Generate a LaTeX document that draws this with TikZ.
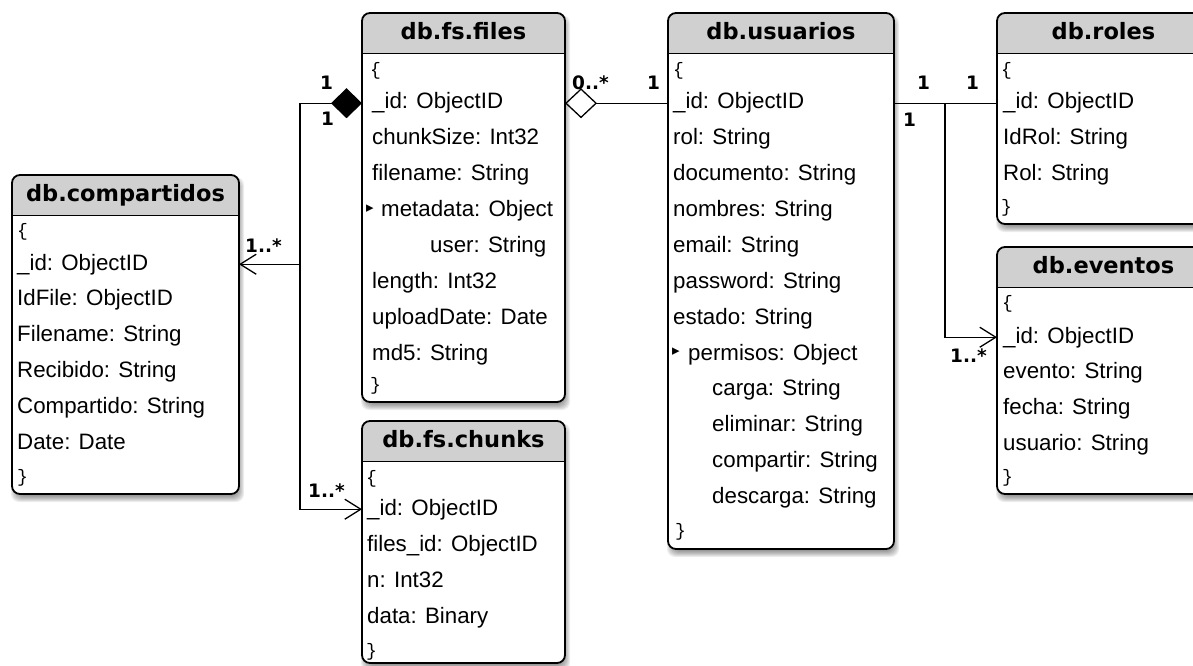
\documentclass[tikz,border=0pt]{standalone}
\usepackage{fontspec}
\setmainfont{Liberation Sans}
\newfontfamily\dejavu{DejaVu Sans}
\newfontfamily\bracefont{Liberation Mono}
\usetikzlibrary{arrows.meta}

\definecolor{headgray}{RGB}{208,208,208}

\tikzset{
  rowtext/.style={anchor=base west, inner sep=0pt, font=\fontsize{22.3}{26}\selectfont},
  bracetext/.style={anchor=west, inner sep=0pt, font=\bracefont\fontsize{18}{20}\selectfont},
  headtext/.style={anchor=base, inner sep=0pt, font=\dejavu\bfseries\fontsize{22.5}{26}\selectfont},
  multext/.style={anchor=base west, inner sep=0pt, font=\dejavu\bfseries\fontsize{18.5}{20}\selectfont},
  bullet/.style={anchor=center, inner sep=0pt, font=\dejavu\fontsize{15}{16}\selectfont},
  conn/.style={line width=1.3pt},
  barb/.style={-{Straight Barb[length=16pt,width=20pt]}},
  tablebox/.style={fill=white, rounded corners=8pt, inner sep=0pt, outer sep=0pt, draw=none},
  tableline/.style={line width=1.8pt},
}

% #1 name, #2 left, #3 top, #4 right, #5 bottom, #6 title
\newcommand\dbtable[6]{%
  % soft shadow built from stacked translucent layers
  \foreach \e in {0,...,6}{%
    \fill[black, opacity=0.07, rounded corners=8pt]
      (#2+5-\e, #3+8-\e) rectangle (#4-1+\e, #5+2+\e);
  }
  \node[tablebox, minimum width={#4-#2}, minimum height={#5-#3}, anchor=north west] (#1) at (#2,#3) {};
  \begin{scope}
    \clip[rounded corners=8pt] (#1.north west) rectangle (#1.south east);
    \fill[headgray] (#1.north west) rectangle ([yshift=-40.5pt]#1.north east);
  \end{scope}
  \draw[tableline] ([yshift=-40.5pt]#1.north west) -- ([yshift=-40.5pt]#1.north east);
  \draw[tableline, rounded corners=8pt] (#1.north west) rectangle (#1.south east);
  \node[headtext] (#1-title) at ([yshift=-26.3pt]#1.north) {#6};
}

\begin{document}
\begin{tikzpicture}[x=1pt, y=-1pt]
\useasboundingbox (0,0) rectangle (1193,666);

% ---------- collections ----------
\dbtable{comp}{12}{175}{239}{494}{db.compartidos}
\dbtable{files}{362}{13}{565}{402}{db.fs.files}
\dbtable{chunks}{362}{421}{565}{663}{db.fs.chunks}
\dbtable{usu}{668}{13}{894}{549}{db.usuarios}
\dbtable{roles}{997}{13}{1210}{224}{db.roles}
\dbtable{ev}{997}{247}{1210}{494}{db.eventos}

% db.compartidos
\node[bracetext] (comp-open) at (17,232) {\{};
\node[rowtext] (comp-id) at (17,270) {\_id: ObjectID};
\node[rowtext] (comp-idfile) at (17,305.9) {IdFile: ObjectID};
\node[rowtext] (comp-filename) at (17,341.7) {Filename: String};
\node[rowtext] (comp-recibido) at (17,377.6) {Recibido: String};
\node[rowtext] (comp-compartido) at (17,413.4) {Compartido: String};
\node[rowtext] (comp-date) at (17,449.3) {Date: Date};
\node[bracetext] (comp-close) at (17,478) {\}};

% db.fs.files
\node[bracetext] (files-open) at (370,71) {\{};
\node[rowtext] (files-id) at (372,109) {\_id: ObjectID};
\node[rowtext] (files-chunk) at (372,144.9) {chunkSize: Int32};
\node[rowtext] (files-name) at (372,180.7) {filename: String};
\node[bullet] (files-tri) at (370,208.5) {▸};
\node[rowtext] (files-meta) at (381,216.6) {metadata: Object};
\node[rowtext] (files-user) at (430,252.4) {user: String};
\node[rowtext] (files-len) at (372,288.3) {length: Int32};
\node[rowtext] (files-date) at (372,324.2) {uploadDate: Date};
\node[rowtext] (files-md5) at (372,360) {md5: String};
\node[bracetext] (files-close) at (370,386) {\}};

% db.fs.chunks
\node[bracetext] (chunks-open) at (366,479) {\{};
\node[rowtext] (chunks-id) at (367,515) {\_id: ObjectID};
\node[rowtext] (chunks-fid) at (367,551) {files\_id: ObjectID};
\node[rowtext] (chunks-n) at (367,587) {n: Int32};
\node[rowtext] (chunks-data) at (367,623) {data: Binary};
\node[bracetext] (chunks-close) at (366,652) {\}};

% db.usuarios
\node[bracetext] (usu-open) at (673,71) {\{};
\node[rowtext] (usu-id) at (673,109) {\_id: ObjectID};
\node[rowtext] (usu-rol) at (673,144.9) {rol: String};
\node[rowtext] (usu-doc) at (673,180.7) {documento: String};
\node[rowtext] (usu-nom) at (673,216.6) {nombres: String};
\node[rowtext] (usu-mail) at (673,252.4) {email: String};
\node[rowtext] (usu-pass) at (673,288.3) {password: String};
\node[rowtext] (usu-est) at (673,324.2) {estado: String};
\node[bullet] (usu-tri) at (676,352) {▸};
\node[rowtext] (usu-perm) at (688,360) {permisos: Object};
\node[rowtext] (usu-carga) at (712,395.9) {carga: String};
\node[rowtext] (usu-elim) at (712,431.8) {eliminar: String};
\node[rowtext] (usu-comp) at (712,467.6) {compartir: String};
\node[rowtext] (usu-desc) at (712,503.5) {descarga: String};
\node[bracetext] (usu-close) at (675,532) {\}};

% db.roles
\node[bracetext] (roles-open) at (1001,71) {\{};
\node[rowtext] (roles-id) at (1003,109) {\_id: ObjectID};
\node[rowtext] (roles-idrol) at (1003,144.9) {IdRol: String};
\node[rowtext] (roles-rol) at (1003,180.7) {Rol: String};
\node[bracetext] (roles-close) at (1001,208) {\}};

% db.eventos
\node[bracetext] (ev-open) at (1002,304) {\{};
\node[rowtext] (ev-id) at (1003,343) {\_id: ObjectID};
\node[rowtext] (ev-evento) at (1003,378.9) {evento: String};
\node[rowtext] (ev-fecha) at (1003,414.7) {fecha: String};
\node[rowtext] (ev-usuario) at (1003,450.6) {usuario: String};
\node[bracetext] (ev-close) at (1002,478) {\}};

% ---------- relations ----------
\coordinate (fbus) at ([xshift=-62pt]files.west);
\coordinate (rbus) at ([xshift=51pt]usu.east);

% fs.files composed of chunks, shared through compartidos
\draw[conn, {Straight Barb[length=16pt,width=20pt]}-{Diamond[length=31pt,width=30pt]}]
  (chunks.west |- chunks-id) -| (fbus |- files-id) -- (files.west |- files-id);
\draw[conn, barb] (fbus |- comp-id) -- (comp.east |- comp-id);

% usuarios aggregates files
\draw[conn, -{Diamond[open,length=32pt,width=30pt]}]
  (usu.west |- usu-id) -- (files.east |- usu-id);

% usuarios to roles and eventos
\draw[conn] (usu.east |- usu-id) -- (roles.west |- usu-id);
\draw[conn, barb] (rbus |- usu-id) |- (ev.west |- ev-id);

% multiplicities
\node[multext] (m-files-a) at (320,90) {1};
\node[multext] (m-files-b) at (321,125) {1};
\node[multext] (m-comp) at (245,252) {1..*};
\node[multext] (m-chunks) at (308,497) {1..*};
\node[multext] (m-files-usu) at (572,90) {0..*};
\node[multext] (m-usu-files) at (647,90) {1};
\node[multext] (m-usu-roles) at (917,90) {1};
\node[multext] (m-roles) at (966,90) {1};
\node[multext] (m-usu-ev) at (903,126) {1};
\node[multext] (m-ev) at (950,362) {1..*};
\end{tikzpicture}
\end{document}
